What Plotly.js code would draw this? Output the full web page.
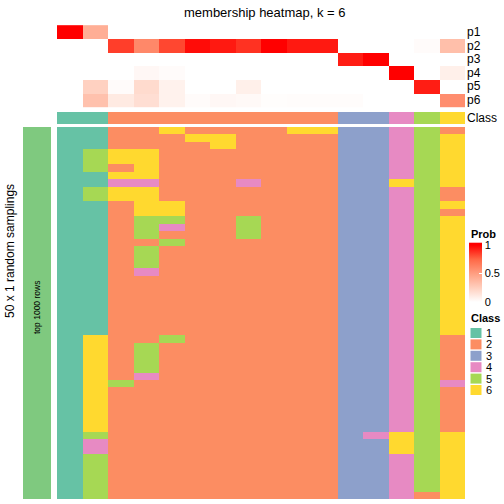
<!DOCTYPE html>
<html>
<head>
<meta charset="utf-8">
<script src="https://cdn.plot.ly/plotly-3.0.1.min.js"></script>
<style>html,body{margin:0;padding:0;background:#fff;}#chart{width:504px;height:504px;}</style>
</head>
<body>
<div id="chart"></div>
<script>
// ---- data ----
var sampleIdx = [0,1,2,3,4,5,6,7,8,9,10,11,12,13,14,15];
var probLabels = ["p1","p2","p3","p4","p5","p6"];
var probP1 = [1.00,0.42,0,0,0,0,0,0,0,0,0,0,0,0,0,0];
var probP2 = [0,0,0.85,0.60,0.83,0.97,0.94,0.88,1.00,0.94,0.94,0,0,0,0.02,0.33];
var probP3 = [0,0,0,0,0,0,0,0,0,0,0,0.93,1.00,0,0,0];
var probP4 = [0,0,0,0.04,0.02,0,0,0,0,0,0,0,0,1.00,0,0.08];
var probP5 = [0,0.24,0.02,0.19,0.07,0,0,0.08,0,0,0,0,0,0,0.93,0];
var probP6 = [0,0.32,0.11,0.17,0.07,0.02,0.04,0.03,0.01,0.015,0.015,0.015,0,0,0,0.58];
var classRow = [1,1,2,2,2,2,2,2,2,2,2,3,3,4,5,6];
var classNames = ["1","2","3","4","5","6"];
var classColors = ["#66C2A5","#FC8D62","#8DA0CB","#E78AC3","#A6D854","#FFD92F"];
// 50 random samplings (rows) x 16 samples (columns)
var samplingClasses = [
 [1,1,2,2,6,2,2,2,2,6,6,3,3,4,5,2],
 [1,1,2,2,2,6,6,2,2,2,2,3,3,4,5,6],
 [1,1,2,2,2,2,6,2,2,2,2,3,3,4,5,6],
 [1,5,6,6,2,2,2,2,2,2,2,3,3,4,5,6],
 [1,5,6,6,2,2,2,2,2,2,2,3,3,4,5,6],
 [1,5,2,6,2,2,2,2,2,2,2,3,3,4,5,6],
 [1,1,6,6,2,2,2,2,2,2,2,3,3,4,5,6],
 [1,1,4,4,2,2,2,4,2,2,2,3,3,6,5,6],
 [1,5,6,6,2,2,2,2,2,2,2,3,3,4,5,2],
 [1,5,6,6,2,2,2,2,2,2,2,3,3,4,5,2],
 [1,1,2,6,6,2,2,2,2,2,2,3,3,4,5,6],
 [1,1,2,6,6,2,2,2,2,2,2,3,3,4,5,2],
 [1,1,2,5,5,2,2,5,2,2,2,3,3,4,5,6],
 [1,1,2,5,4,2,2,5,2,2,2,3,3,4,5,6],
 [1,1,2,5,2,2,2,5,2,2,2,3,3,4,5,6],
 [1,1,2,2,5,2,2,2,2,2,2,3,3,4,5,6],
 [1,1,2,5,2,2,2,2,2,2,2,3,3,4,5,6],
 [1,1,2,5,2,2,2,2,2,2,2,3,3,4,5,6],
 [1,1,2,5,2,2,2,2,2,2,2,3,3,4,5,6],
 [1,1,2,4,2,2,2,2,2,2,2,3,3,4,5,6],
 [1,1,2,2,2,2,2,2,2,2,2,3,3,4,5,6],
 [1,1,2,2,2,2,2,2,2,2,2,3,3,4,5,6],
 [1,1,2,2,2,2,2,2,2,2,2,3,3,4,5,6],
 [1,1,2,2,2,2,2,2,2,2,2,3,3,4,5,6],
 [1,1,2,2,2,2,2,2,2,2,2,3,3,4,5,6],
 [1,1,2,2,2,2,2,2,2,2,2,3,3,4,5,6],
 [1,1,2,2,2,2,2,2,2,2,2,3,3,4,5,6],
 [1,1,2,2,2,2,2,2,2,2,2,3,3,4,5,6],
 [1,6,2,2,5,2,2,2,2,2,2,3,3,4,5,2],
 [1,6,2,5,2,2,2,2,2,2,2,3,3,4,5,2],
 [1,6,2,5,2,2,2,2,2,2,2,3,3,4,5,2],
 [1,6,2,5,2,2,2,2,2,2,2,3,3,4,5,2],
 [1,6,2,5,2,2,2,2,2,2,2,3,3,4,5,2],
 [1,6,2,4,2,2,2,2,2,2,2,3,3,4,5,2],
 [1,6,5,2,2,2,2,2,2,2,2,3,3,4,5,4],
 [1,6,2,2,2,2,2,2,2,2,2,3,3,4,5,2],
 [1,6,2,2,2,2,2,2,2,2,2,3,3,4,5,2],
 [1,6,2,2,2,2,2,2,2,2,2,3,3,4,5,2],
 [1,6,2,2,2,2,2,2,2,2,2,3,3,4,5,2],
 [1,6,2,2,2,2,2,2,2,2,2,3,3,4,5,2],
 [1,6,2,2,2,2,2,2,2,2,2,3,3,4,5,2],
 [1,5,2,2,2,2,2,2,2,2,2,3,4,6,5,6],
 [1,4,2,2,2,2,2,2,2,2,2,3,3,6,5,6],
 [1,4,2,2,2,2,2,2,2,2,2,3,3,6,5,6],
 [1,5,2,2,2,2,2,2,2,2,2,3,3,4,5,6],
 [1,5,2,2,2,2,2,2,2,2,2,3,3,4,5,6],
 [1,5,2,2,2,2,2,2,2,2,2,3,3,4,5,6],
 [1,5,2,2,2,2,2,2,2,2,2,3,3,4,5,6],
 [1,5,2,2,2,2,2,2,2,2,2,3,3,4,5,6],
 [1,5,2,2,2,2,2,2,2,2,2,3,3,4,2,6]
];
var samplingLabel = "top 1000 rows";
var samplingGroupColor = "#7FC97F";

// ---- helpers ----
var W = 504, H = 504;
function px(x){ return x / W; }
function py(y){ return 1 - y / H; }
function discreteScale(colors){
  var n = colors.length, s = [];
  for (var i = 0; i < n; i++){ s.push([i/n, colors[i]]); s.push([(i+1)/n, colors[i]]); }
  return s;
}
var rowIdx = samplingClasses.map(function(_, i){ return i; });
var probMatrix = [probP1, probP2, probP3, probP4, probP5, probP6];
var probScale = [[0,"#FFFFFF"],[0.25,"rgb(255,207,190)"],[0.5,"rgb(255,158,129)"],[0.75,"rgb(255,104,70)"],[1,"#FF0000"]];
var fontFam = "Liberation Sans, Arial, sans-serif";

var traces = [
  { type:"heatmap", x: sampleIdx, y: probLabels, z: probMatrix, xaxis:"x", yaxis:"y",
    zmin:0, zmax:1, colorscale: probScale, xgap:0, ygap:0, hoverinfo:"skip",
    showscale:true,
    colorbar:{ x: px(469), xanchor:"left", y: py(245), yanchor:"top",
      len:56.5, lenmode:"pixels", thickness:13, thicknessmode:"pixels",
      outlinewidth:0, xpad:0, ypad:0,
      tickvals:[0,0.5,1], ticktext:["0","0.5","1"], ticks:"inside", ticklen:3, tickcolor:"#FFFFFF", tickwidth:1,
      tickfont:{family:fontFam, size:11, color:"#000"},
      title:{ text:"", side:"top" } } },
  { type:"heatmap", x: sampleIdx, y: ["Class"], z: [classRow], xaxis:"x", yaxis:"y2",
    zmin:0.5, zmax:6.5, colorscale: discreteScale(classColors), showscale:false, hoverinfo:"skip" },
  { type:"heatmap", x: sampleIdx, y: rowIdx, z: samplingClasses, xaxis:"x", yaxis:"y3",
    zmin:0.5, zmax:6.5, colorscale: discreteScale(classColors), showscale:false, hoverinfo:"skip" },
  { type:"heatmap", x: [0], y: rowIdx, z: rowIdx.map(function(){ return [1]; }), xaxis:"x2", yaxis:"y3",
    zmin:0, zmax:1, colorscale:[[0,samplingGroupColor],[1,samplingGroupColor]], showscale:false, hoverinfo:"skip" }
];

var hidden = { showgrid:false, zeroline:false, showticklabels:false, ticks:"", showline:false, fixedrange:true };
function ax(o){ var r = {}; for (var k in hidden) r[k] = hidden[k]; for (var k2 in o) r[k2] = o[k2]; return r; }

var annotations = [
  { text:"membership heatmap, k = 6", xref:"paper", yref:"paper", x: px(265), y: py(12),
    xanchor:"center", yanchor:"middle", showarrow:false, font:{family:fontFam, size:13, color:"#000"} },
  { text:"50 x 1 random samplings", xref:"paper", yref:"paper", x: px(10), y: py(251),
    xanchor:"center", yanchor:"middle", textangle:-90, showarrow:false, font:{family:fontFam, size:12, color:"#000"} },
  { text: samplingLabel, xref:"paper", yref:"paper", x: px(37), y: py(308),
    xanchor:"center", yanchor:"middle", textangle:-90, showarrow:false, font:{family:fontFam, size:8.5, color:"#000"} },
  { text:"<b>Prob</b>", xref:"paper", yref:"paper", x: px(469), y: py(234), xanchor:"left", yanchor:"middle",
    showarrow:false, font:{family:fontFam, size:11, color:"#000"} }
];
probLabels.forEach(function(lbl, i){
  annotations.push({ text: lbl, xref:"paper", yref:"y", x: px(466), y: lbl, xanchor:"left", yanchor:"middle",
    showarrow:false, borderpad:0, font:{family:fontFam, size:12, color:"#000"} });
});
annotations.push({ text:"Class", xref:"paper", yref:"y2", x: px(466), y: "Class", xanchor:"left", yanchor:"middle",
  showarrow:false, borderpad:0, font:{family:fontFam, size:12, color:"#000"} });
annotations.push({ text:"<b>Class</b>", xref:"paper", yref:"paper", x: px(469), y: py(318), xanchor:"left", yanchor:"middle",
  showarrow:false, font:{family:fontFam, size:11, color:"#000"} });

var shapes = [
  { type:"rect", xref:"paper", yref:"paper", x0: px(469), x1: px(482), y0: py(245.5), y1: py(242.7),
    fillcolor:"#FF0000", line:{width:0} }
];
classNames.forEach(function(nm, i){
  var cy = 333 + 11.4 * i;
  shapes.push({ type:"rect", xref:"paper", yref:"paper", x0: px(470.5), x1: px(481.5), y0: py(cy - 5), y1: py(cy + 5),
    fillcolor: classColors[i], line:{width:0} });
  annotations.push({ text: nm, xref:"paper", yref:"paper", x: px(485), y: py(cy), xanchor:"left", yanchor:"middle",
    showarrow:false, borderpad:0, font:{family:fontFam, size:11, color:"#000"} });
});

var layout = {
  width: W, height: H, margin:{l:0,r:0,t:0,b:0,autoexpand:false}, paper_bgcolor:"#FFFFFF", plot_bgcolor:"#FFFFFF",
  showlegend:false,
  xaxis: ax({ domain:[px(57), px(465)], range:[-0.5, 15.5], anchor:"y3" }),
  xaxis2: ax({ domain:[px(23), px(51)], range:[-0.5, 0.5], anchor:"y3" }),
  yaxis: ax({ domain:[py(108), py(24)], type:"category", autorange:"reversed", anchor:"x" }),
  yaxis2: ax({ domain:[py(124), py(110)], type:"category", anchor:"x" }),
  yaxis3: ax({ domain:[py(499), py(127)], range:[49.5, -0.5], anchor:"x" }),
  annotations: annotations,
  shapes: shapes
};

Plotly.newPlot("chart", traces, layout, {staticPlot:true, displayModeBar:false});
</script>
</body>
</html>
